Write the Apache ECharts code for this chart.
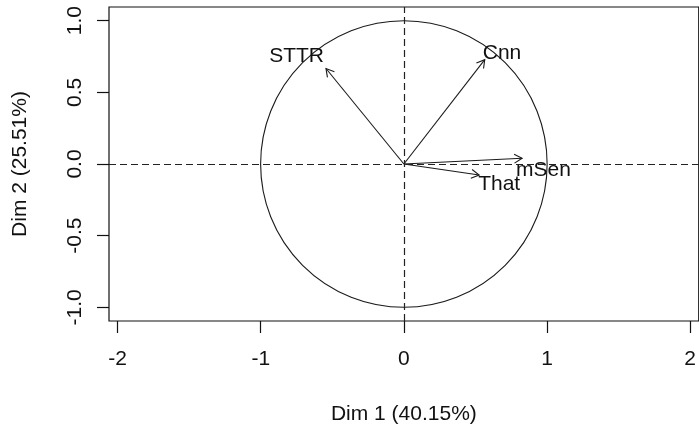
<!DOCTYPE html>
<html>
<head>
<meta charset="utf-8">
<title>Variables factor map</title>
<script src="https://cdn.jsdelivr.net/npm/echarts@6/dist/echarts.min.js"></script>
<style>
  html, body { margin: 0; padding: 0; background: #ffffff; }
  #chart { width: 699px; height: 430px; }
</style>
</head>
<body>
<div id="chart"></div>
<script>
// Variable coordinates on the first two dimensions
const varNames = ['STTR', 'Cnn', 'mSen', 'That'];
const dim1 = [-0.544, 0.565, 0.826, 0.526];
const dim2 = [0.666, 0.728, 0.040, -0.077];

// Tick values
const xTicks = [-2, -1, 0, 1, 2];
const yTicks = [-1, -0.5, 0, 0.5, 1];

// Axis titles
const xTitle = 'Dim 1 (40.15%)';
const yTitle = 'Dim 2 (25.51%)';

// Label placement around each arrow tip (pixels)
const labelPlacement = {
  STTR: { align: 'right', dx: -2, dy: -12 },
  Cnn:  { align: 'left',  dx: -2, dy: -6 },
  mSen: { align: 'left',  dx: -6, dy: 12 },
  That: { align: 'left',  dx: -1, dy: 9 }
};

const FONT = '"Liberation Sans", Arial, sans-serif';
const INK = '#111111';
const STROKE = '#1a1a1a';

const chart = echarts.init(document.getElementById('chart'), null, { renderer: 'canvas' });

const arrowData = dim1.map((v, i) => [v, dim2[i]]);

function renderArrow(params, api) {
  const o = api.coord([0, 0]);
  const p = api.coord([api.value(0), api.value(1)]);
  const ang = Math.atan2(p[1] - o[1], p[0] - o[0]);
  const len = 9, spread = Math.PI / 6;
  const h1 = [p[0] - len * Math.cos(ang - spread), p[1] - len * Math.sin(ang - spread)];
  const h2 = [p[0] - len * Math.cos(ang + spread), p[1] - len * Math.sin(ang + spread)];
  const name = varNames[params.dataIndex];
  const lp = labelPlacement[name];
  return {
    type: 'group',
    children: [
      { type: 'line', shape: { x1: o[0], y1: o[1], x2: p[0], y2: p[1] },
        style: { stroke: STROKE, lineWidth: 1.1 } },
      { type: 'polyline', shape: { points: [h1, p, h2] },
        style: { stroke: STROKE, lineWidth: 1.1, fill: null } },
      { type: 'text', x: p[0] + lp.dx, y: p[1] + lp.dy,
        style: { text: name, fill: INK, font: '21px ' + FONT,
                 align: lp.align, verticalAlign: 'middle' } }
    ]
  };
}

function renderCircle(params, api) {
  const c = api.coord([api.value(0), api.value(1)]);
  const s = api.size([1, 1]);
  return {
    type: 'circle',
    shape: { cx: c[0], cy: c[1], r: (s[0] + s[1]) / 2 },
    style: { stroke: STROKE, lineWidth: 1.1, fill: null }
  };
}

const option = {
  animation: false,
  backgroundColor: '#ffffff',
  grid: {
    left: 109, top: 7, width: 594, height: 315,
    show: true, borderColor: '#111', borderWidth: 1.2, backgroundColor: 'transparent'
  },
  xAxis: {
    type: 'value', min: -2.06, max: 2.06,
    name: xTitle, nameLocation: 'middle', nameGap: 83,
    nameTextStyle: { fontFamily: FONT, fontSize: 21, color: INK },
    axisLine: { show: false, onZero: false },
    axisTick: { show: true, length: 12, customValues: xTicks, lineStyle: { color: '#111', width: 1.2 } },
    axisLabel: { customValues: xTicks, margin: 28, fontFamily: FONT, fontSize: 21, color: INK },
    splitLine: { show: false }
  },
  yAxis: {
    type: 'value', min: -1.095, max: 1.095,
    name: yTitle, nameLocation: 'middle', nameGap: 78, nameRotate: 90,
    nameTextStyle: { fontFamily: FONT, fontSize: 21, color: INK },
    axisLine: { show: false, onZero: false },
    axisTick: { show: true, length: 12, customValues: yTicks, lineStyle: { color: '#111', width: 1.2 } },
    axisLabel: { customValues: yTicks, margin: 23, rotate: 90, fontFamily: FONT, fontSize: 21, color: INK,
                 formatter: v => Number(v).toFixed(1) },
    splitLine: { show: false }
  },
  series: [
    {
      type: 'custom', name: 'circle', renderItem: renderCircle, data: [[0, 0]], silent: true,
      markLine: {
        silent: true, symbol: 'none', label: { show: false },
        lineStyle: { color: '#222', width: 1.2, type: [7, 4] },
        data: [{ xAxis: 0 }, { yAxis: 0 }]
      }
    },
    {
      type: 'custom', name: 'variables', renderItem: renderArrow, data: arrowData, silent: true
    }
  ]
};

chart.setOption(option);
</script>
</body>
</html>
